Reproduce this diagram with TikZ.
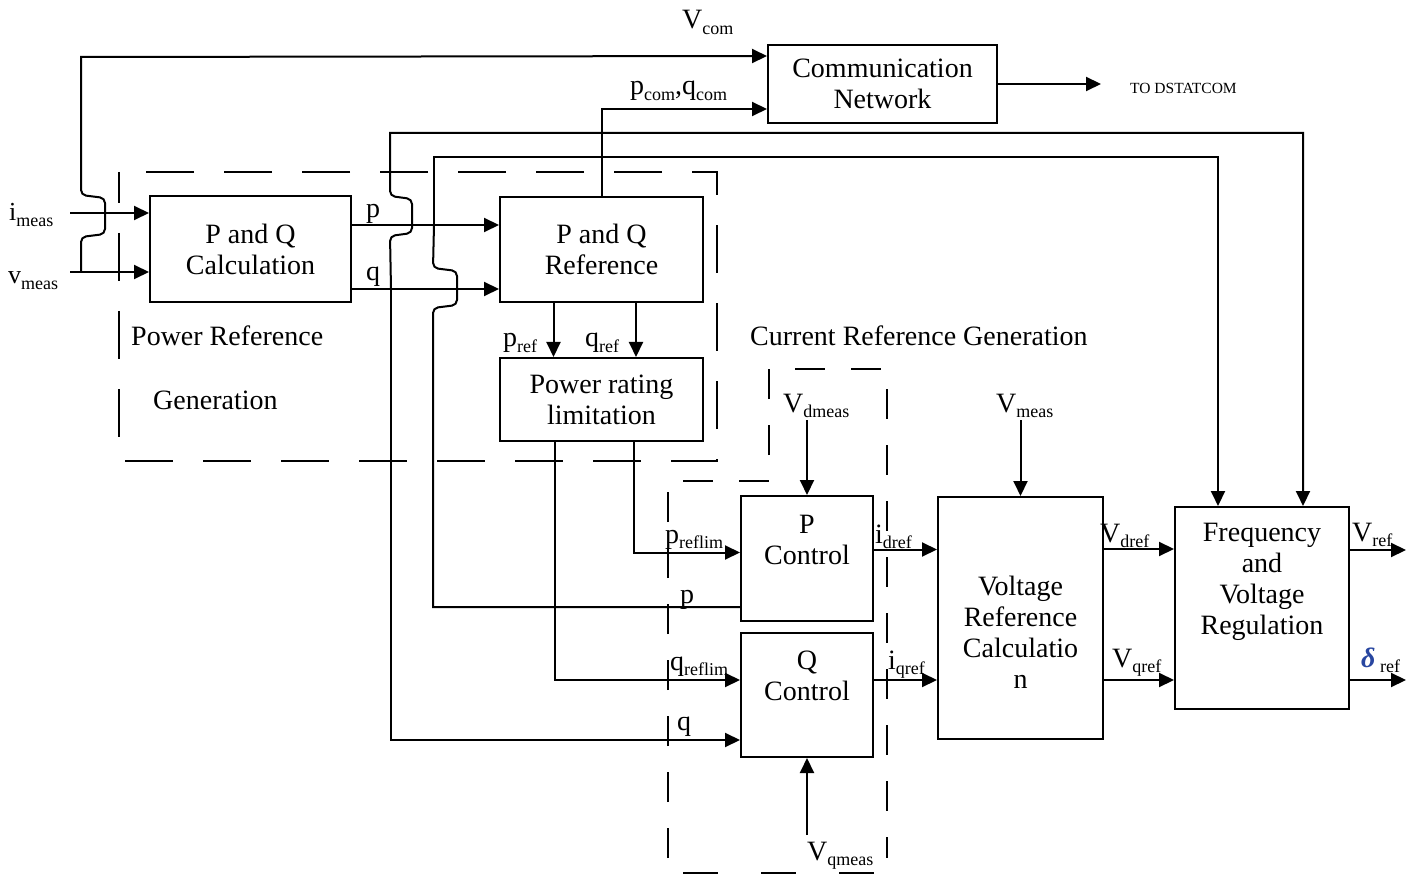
\documentclass[tikz,border=0pt]{standalone}
\usepackage{fontspec}
\setmainfont{Liberation Serif}
\usetikzlibrary{arrows.meta,calc}
\tikzset{
  blk/.style={draw,line width=2pt,rectangle,inner sep=0pt,align=center,font=\fontsize{28}{31}\selectfont},
  arr/.style={line width=2pt,-{Triangle[length=15pt,width=14pt]}},
  ln/.style={line width=2pt},
  dbox/.style={line width=2pt,dash pattern=on 48pt off 30pt},
  lbl/.style={anchor=base west,inner sep=0pt,font=\fontsize{28}{31}\selectfont},
  slbl/.style={anchor=base west,inner sep=0pt,font=\fontsize{15.5}{18}\selectfont},
  txt/.style={inner sep=0pt,align=center,font=\fontsize{28}{31}\selectfont},
}
\newcommand{\sbx}[1]{\raisebox{-0.2em}{\fontsize{18}{18}\selectfont #1}}
\begin{document}
\begin{tikzpicture}[x=1pt,y=-1pt]
\useasboundingbox (0,0) rectangle (1413,874);
% dashed regions
\draw[dbox,dash phase=17pt] (119,172) rectangle (717,461);
\draw[dbox,dash pattern=on 30pt off 26pt] (668,858) -- (668,481) -- (769,481) -- (769,369) -- (887,369) -- (887,858);
\draw[line width=2pt,dash pattern=on 35pt off 43pt] (683,873) -- (887,873);
% boxes
\node[blk,minimum width=229pt,minimum height=78pt] (comm) at (882.5,84) {Communication\\Network};
\node[blk,minimum width=201pt,minimum height=106pt] (pqc) at (250.5,249) {P and Q\\Calculation};
\node[blk,minimum width=203pt,minimum height=105pt] (pqr) at (601.5,249.5) {P and Q\\Reference};
\node[blk,minimum width=203pt,minimum height=83pt] (prl) at (601.5,399.5) {Power rating\\limitation};
\node[blk,minimum width=132pt,minimum height=125pt] (pc) at (807,558.5) {};
\node[txt] (pct) at (807,540) {P\\Control};
\node[blk,minimum width=132pt,minimum height=124pt] (qc) at (807,695) {};
\node[txt] (qct) at (807,676) {Q\\Control};
\node[blk,minimum width=165pt,minimum height=242pt] (vrc) at (1020.5,618) {};
\node[txt] (vrct) at (1020.5,632) {Voltage\\Reference\\Calculatio\\n};
\node[blk,minimum width=174pt,minimum height=202pt] (frq) at (1262,608) {};
\node[txt] (frqt) at (1262,582) {Frequency\\and\\Voltage\\Regulation};
% labels
\node[lbl] (lvcom) at (682,29) {V\sbx{com}};
\node[lbl,font=\fontsize{26}{29}\selectfont] (lim) at (9,221) {i\sbx{meas}};
\node[lbl,font=\fontsize{26}{29}\selectfont] (lvm) at (8,284) {v\sbx{meas}};
\node[lbl] (lp1) at (366,218) {p};
\node[lbl] (lq1) at (366,281) {q};
\node[lbl] (lpcom) at (630,95) {p\sbx{com},q\sbx{com}};
\node[slbl] (ltod) at (1130,94) {TO DSTATCOM};
\node[lbl] (lprg1) at (131,345) {Power Reference};
\node[lbl] (lprg2) at (153,409) {Generation};
\node[lbl] (lcrg) at (750,345) {Current Reference Generation};
\node[lbl] (lpref) at (503,347) {p\sbx{ref}};
\node[lbl] (lqref) at (585,347) {q\sbx{ref}};
\node[lbl] (lvdm) at (783,412) {V\sbx{dmeas}};
\node[lbl] (lvme) at (996,412) {V\sbx{meas}};
\node[lbl] (lprl) at (665,543) {p\sbx{reflim}};
\node[lbl] (lp2) at (680,603) {p};
\node[lbl] (lqrl) at (670,670) {q\sbx{reflim}};
\node[lbl] (lq2) at (677,730) {q};
\node[lbl] (lidr) at (875,543) {i\sbx{dref}};
\node[lbl] (liqr) at (888,669) {i\sbx{qref}};
\node[lbl] (lvdr) at (1100,542) {V\sbx{dref}};
\node[lbl] (lvqr) at (1112,667) {V\sbx{qref}};
\node[lbl] (lvr) at (1352,541) {V\sbx{ref}};
\node[lbl] (ldr) at (1361,667) {\textcolor[RGB]{40,70,160}{\bfseries\itshape δ}\,\sbx{ref}};
\node[lbl] (lvqm) at (807,860) {V\sbx{qmeas}};
% inputs
\coordinate (im) at (70,213);
\coordinate (vm) at (70,272);
\draw[arr] (im) -- (pqc.west |- im);
\draw[arr] (vm) -- (pqc.west |- vm);
% Vcom line with hop over i_meas
\coordinate (j1) at (81,272);
\draw[arr] (j1) [rounded corners=5pt] -- (81,237) -- (105,234) -- (105,198) -- (81,195) -- (81,185) [sharp corners] -- (81,57) -- ($(comm.north west)+(0,12)$);
% p and q to reference
\draw[arr] ($(pqc.north east)+(0,30)$) coordinate (p0) -- (pqr.west |- p0);
\draw[arr] ($(pqc.south east)+(0,-14)$) coordinate (q0) -- (pqr.west |- q0);
% pcom,qcom
\draw[arr] (pqr.north) |- ($(comm.south west)+(0,-15)$);
% to DSTATCOM
\draw[arr] (comm.east) -- ++(103,0) coordinate (tod);
% q tap (x=390)
\coordinate (qj) at ($(q0)+(39,0)$);
\draw[arr] (qj) [rounded corners=5pt] -- (390,236) -- (412,233) -- (412,199) -- (390,196) -- (390,186) [sharp corners] -- (390,133) -- (1303,133) -- ($(frq.north)+(41,0)$);
\draw[arr] (qj) |- ($(qc.west)+(0,45)$);
% p tap (x=433)
\coordinate (pj) at ($(p0)+(82,0)$);
\draw[arr] (pj) |- (1218,157) -- ($(frq.north)+(-44,0)$);
\draw[ln] (pj) [rounded corners=5pt] -- (433,268) -- (457,271) -- (457,305) -- (433,308) -- (433,318) [sharp corners] -- (433,607) -- ($(pc.west)+(0,48.5)$);
% pref, qref
\draw[arr] ($(pqr.south)+(-48,0)$) -- ($(prl.north)+(-48,0)$);
\draw[arr] ($(pqr.south)+(34.5,0)$) -- ($(prl.north)+(34.5,0)$);
% limited refs
\draw[arr] ($(prl.south)+(32.5,0)$) |- ($(pc.west)+(0,-6)$);
\draw[arr] ($(prl.south)+(-46.5,0)$) |- ($(qc.west)+(0,-15)$);
% measured voltages
\draw[arr] (pc.north |- 0,420) -- (pc.north);
\draw[arr] (qc.south |- 0,835) -- (qc.south);
\draw[arr] (vrc.north |- 0,420) -- (vrc.north);
% current refs
\draw[arr] ($(pc.east)+(0,-9)$) coordinate (id0) -- (vrc.west |- id0);
\draw[arr] ($(qc.east)+(0,-15)$) coordinate (iq0) -- (vrc.west |- iq0);
% voltage refs
\draw[arr] ($(vrc.east)+(0,-69)$) coordinate (vd0) -- (frq.west |- vd0);
\draw[arr] ($(vrc.east)+(0,62)$) coordinate (vq0) -- (frq.west |- vq0);
% outputs
\draw[arr] ($(frq.east)+(0,-58)$) -- ++(56,0) coordinate (vro);
\draw[arr] ($(frq.east)+(0,72)$) -- ++(56,0) coordinate (dro);
\end{tikzpicture}
\end{document}
